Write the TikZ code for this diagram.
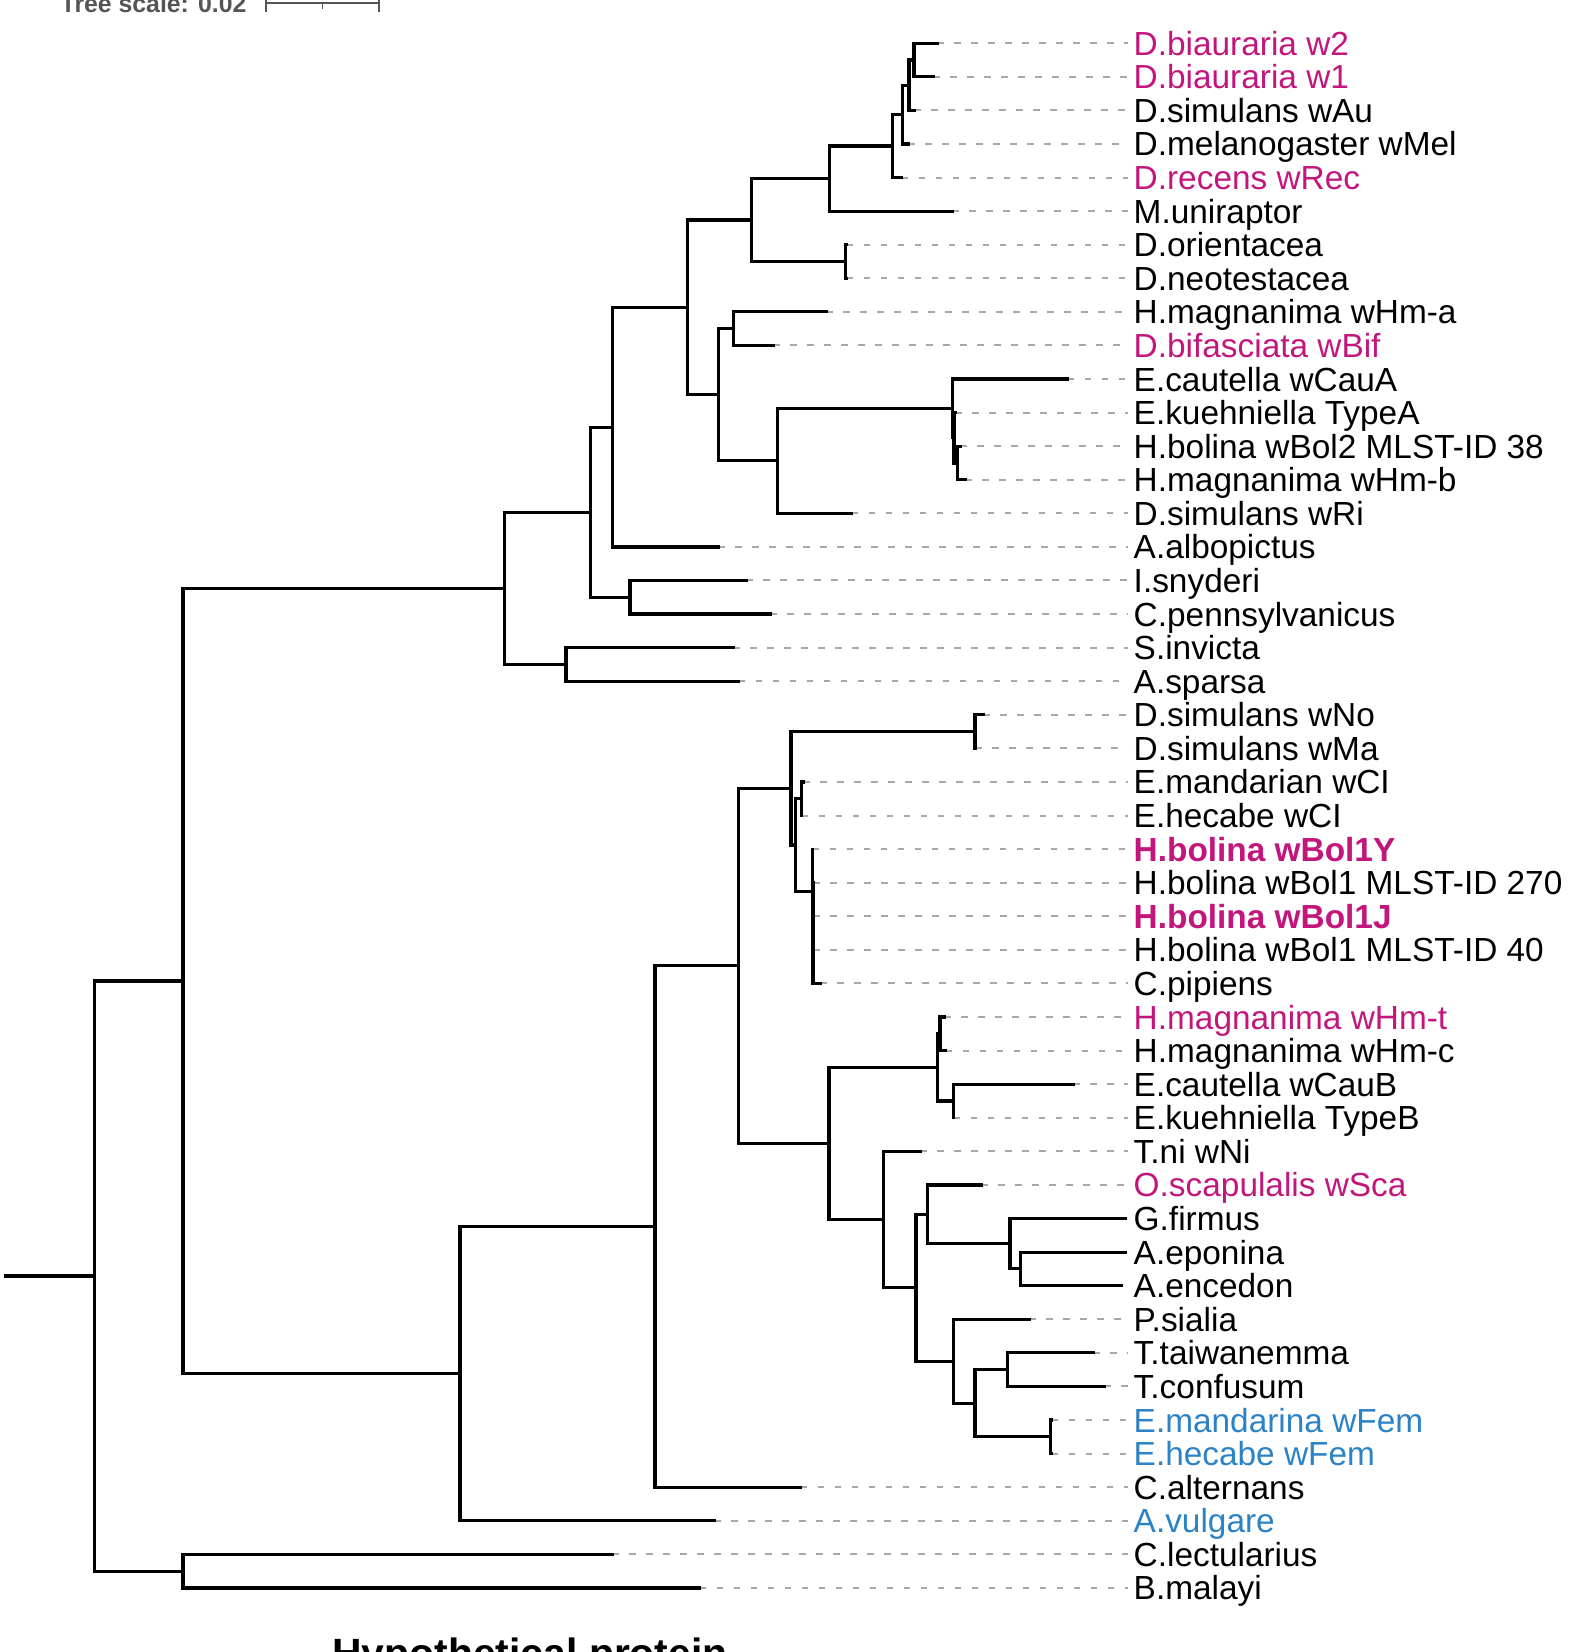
\documentclass[tikz,border=0pt]{standalone}
\usepackage{fontspec}
\setmainfont{Liberation Sans}
\definecolor{wolmag}{HTML}{C2167C}
\definecolor{wolblue}{HTML}{2B83C6}
\definecolor{scalegray}{HTML}{555555}
\tikzset{
  branch/.style={line width=0.32mm,line cap=rect},
  leader/.style={draw=gray!68,line width=0.2mm,dash pattern=on 0.65mm off 1.05mm,shorten >=0.5mm},
  taxon/.style={anchor=base west,inner sep=0pt,yshift=-1.2mm},
}
\begin{document}
\begin{tikzpicture}[x=0.1mm,y=-3.358mm]
\useasboundingbox (0,-0.2865) rectangle (1573,48.909);
\clip (0,-0.2865) rectangle (1573,48.909);
% scale bar
\coordinate (sb0) at (265.7,-0.188);
\coordinate (sb1) at (379.3,-0.188);
\coordinate (sbm) at (322.5,-0.188);
\draw[scalegray,line width=0.2mm] (sb0) -- (sb1);
\draw[scalegray,line width=0.2mm] ([yshift=0.6mm]sb0) -- ([yshift=-0.85mm]sb0);
\draw[scalegray,line width=0.2mm] ([yshift=0.6mm]sb1) -- ([yshift=-0.85mm]sb1);
\draw[scalegray,line width=0.15mm] (sbm) -- ([yshift=-0.6mm]sbm);
\node[anchor=base west,inner sep=0pt,text=scalegray,font=\fontsize{7.06}{8}\selectfont\bfseries] (scale) at (60,0.0917) {Tree scale: 0.02};
% leaves: row / tip x / label / colour / weight
\foreach \i/\tx/\lab/\col/\fw in {
  1/937/D.biauraria w2/wolmag/\mdseries,
  2/933/D.biauraria w1/wolmag/\mdseries,
  3/914/D.simulans wAu/black/\mdseries,
  4/908.3/D.melanogaster wMel/black/\mdseries,
  5/901.7/D.recens wRec/wolmag/\mdseries,
  6/952.3/M.uniraptor/black/\mdseries,
  7/846.7/D.orientacea/black/\mdseries,
  8/846.7/D.neotestacea/black/\mdseries,
  9/826/H.magnanima wHm-a/black/\mdseries,
  10/773.3/D.bifasciata wBif/wolmag/\mdseries,
  11/1067.7/E.cautella wCauA/black/\mdseries,
  12/955/E.kuehniella TypeA/black/\mdseries,
  13/960/H.bolina wBol2 MLST-ID 38/black/\mdseries,
  14/965/H.magnanima wHm-b/black/\mdseries,
  15/851.7/D.simulans wRi/black/\mdseries,
  16/718.3/A.albopictus/black/\mdseries,
  17/746/I.snyderi/black/\mdseries,
  18/770/C.pennsylvanicus/black/\mdseries,
  19/733.3/S.invicta/black/\mdseries,
  20/738.7/A.sparsa/black/\mdseries,
  21/983.3/D.simulans wNo/black/\mdseries,
  22/975/D.simulans wMa/black/\mdseries,
  23/803.3/E.mandarian wCI/black/\mdseries,
  24/801.7/E.hecabe wCI/black/\mdseries,
  25/812.7/H.bolina wBol1Y/wolmag/\bfseries,
  26/813/H.bolina wBol1 MLST-ID 270/black/\mdseries,
  27/813/H.bolina wBol1J/wolmag/\bfseries,
  28/813/H.bolina wBol1 MLST-ID 40/black/\mdseries,
  29/820/C.pipiens/black/\mdseries,
  30/944/H.magnanima wHm-t/wolmag/\mdseries,
  31/945.7/H.magnanima wHm-c/black/\mdseries,
  32/1073.3/E.cautella wCauB/black/\mdseries,
  33/953.7/E.kuehniella TypeB/black/\mdseries,
  34/920/T.ni wNi/black/\mdseries,
  35/981/O.scapulalis wSca/wolmag/\mdseries,
  36/1125/G.firmus/black/\mdseries,
  37/1125/A.eponina/black/\mdseries,
  38/1121.7/A.encedon/black/\mdseries,
  39/1029.3/P.sialia/black/\mdseries,
  40/1093.3/T.taiwanemma/black/\mdseries,
  41/1104/T.confusum/black/\mdseries,
  42/1051.7/E.mandarina wFem/wolblue/\mdseries,
  43/1051.7/E.hecabe wFem/wolblue/\mdseries,
  44/800.7/C.alternans/black/\mdseries,
  45/714/A.vulgare/wolblue/\mdseries,
  46/612/C.lectularius/black/\mdseries,
  47/699.6/B.malayi/black/\mdseries}{
  \coordinate (t\i) at (\tx,\i);
  \node[taxon,text=\col,font=\fontsize{9.5}{11}\selectfont\fw] (l\i) at (1133,\i) {\lab};
  \ifdim\tx pt<1115pt \draw[leader] (t\i) -- (t\i -| l\i.west); \fi
}
% upper clade
\coordinate (n1) at (914,1.5);
\coordinate (n2) at (909,2.25);
\coordinate (n3) at (902.3,3.125);
\coordinate (n4) at (892.3,4.0625);
\coordinate (n5) at (829.3,5.03125);
\coordinate (n6) at (845.7,7.5);
\coordinate (n7) at (751.2,6.2656);
\coordinate (n8) at (733.3,9.5);
\coordinate (n9) at (957.3,13.5);
\coordinate (n10) at (954,12.75);
\coordinate (n11) at (952.7,11.875);
\coordinate (n12) at (777.3,13.4375);
\coordinate (n13) at (718.3,11.4688);
\coordinate (n14) at (687.7,8.8672);
\coordinate (n15) at (612.7,12.4336);
\coordinate (n16) at (630,17.5);
\coordinate (n17) at (590.7,14.9668);
\coordinate (n18) at (566,19.5);
\coordinate (n19) at (504.3,17.2334);
\draw[branch] (t1) -| (n1) |- (t2);
\draw[branch] (n1) -| (n2) |- (t3);
\draw[branch] (n2) -| (n3) |- (t4);
\draw[branch] (n3) -| (n4) |- (t5);
\draw[branch] (n4) -| (n5) |- (t6);
\draw[branch] (t7) -| (n6) |- (t8);
\draw[branch] (n5) -| (n7) |- (n6);
\draw[branch] (t9) -| (n8) |- (t10);
\draw[branch] (t13) -| (n9) |- (t14);
\draw[branch] (t12) -| (n10) |- (n9);
\draw[branch] (t11) -| (n11) |- (n10);
\draw[branch] (n11) -| (n12) |- (t15);
\draw[branch] (n8) -| (n13) |- (n12);
\draw[branch] (n7) -| (n14) |- (n13);
\draw[branch] (n14) -| (n15) |- (t16);
\draw[branch] (t17) -| (n16) |- (t18);
\draw[branch] (n15) -| (n17) |- (n16);
\draw[branch] (t19) -| (n18) |- (t20);
\draw[branch] (n17) -| (n19) |- (n18);
% lower clade
\coordinate (m1) at (975,21.5);
\coordinate (m2) at (801.7,23.5);
\coordinate (m3a) at (813,27.5);
\coordinate (m3) at (812.7,26.25);
\coordinate (m4) at (795.7,24.875);
\coordinate (m5) at (791,23.1875);
\coordinate (m6) at (940,30.5);
\coordinate (m7) at (953.7,32.5);
\coordinate (m8) at (937.3,31.5);
\coordinate (m9) at (1020.7,37.5);
\coordinate (m10) at (1010,36.75);
\coordinate (m11) at (927.7,35.875);
\coordinate (m12) at (1007.7,40.5);
\coordinate (m13) at (1050.7,42.5);
\coordinate (m14) at (975,41.5);
\coordinate (m15) at (953.7,40.25);
\coordinate (m16) at (916,38.0625);
\coordinate (m17) at (883.3,36.0313);
\coordinate (m18) at (829,33.7656);
\coordinate (m19) at (738.3,28.4766);
\coordinate (m20) at (655,36.2383);
\coordinate (m21) at (460,40.6191);
\draw[branch] (t21) -| (m1) |- (t22);
\draw[branch] (t23) -| (m2) |- (t24);
\draw[branch] (t26) -| (m3a) |- (t29);
\draw[branch] (t25) -| (m3) |- (m3a);
\draw[branch] (m2) -| (m4) |- (m3);
\draw[branch] (m1) -| (m5) |- (m4);
\draw[branch] (t30) -| (m6) |- (t31);
\draw[branch] (t32) -| (m7) |- (t33);
\draw[branch] (m6) -| (m8) |- (m7);
\draw[branch] (t37) -| (m9) |- (t38);
\draw[branch] (t36) -| (m10) |- (m9);
\draw[branch] (t35) -| (m11) |- (m10);
\draw[branch] (t40) -| (m12) |- (t41);
\draw[branch] (t42) -| (m13) |- (t43);
\draw[branch] (m12) -| (m14) |- (m13);
\draw[branch] (t39) -| (m15) |- (m14);
\draw[branch] (m11) -| (m16) |- (m15);
\draw[branch] (t34) -| (m17) |- (m16);
\draw[branch] (m8) -| (m18) |- (m17);
\draw[branch] (m5) -| (m19) |- (m18);
\draw[branch] (m19) -| (m20) |- (t44);
\draw[branch] (m20) -| (m21) |- (t45);
% root
\coordinate (cA) at (183,28.9263);
\coordinate (cC) at (183,46.5);
\coordinate (root) at (94.3,37.7131);
\coordinate (stem) at (6,37.7131);
\draw[branch] (n19) -| (cA) |- (m21);
\draw[branch] (t46) -| (cC) |- (t47);
\draw[branch] (cA) -| (root) |- (cC);
\draw[branch] (stem) -- (root);
\node[anchor=base west,inner sep=0pt,font=\fontsize{11.63}{13}\selectfont\bfseries] (gene) at (331.7,49.377) {Hypothetical protein};
\end{tikzpicture}
\end{document}
